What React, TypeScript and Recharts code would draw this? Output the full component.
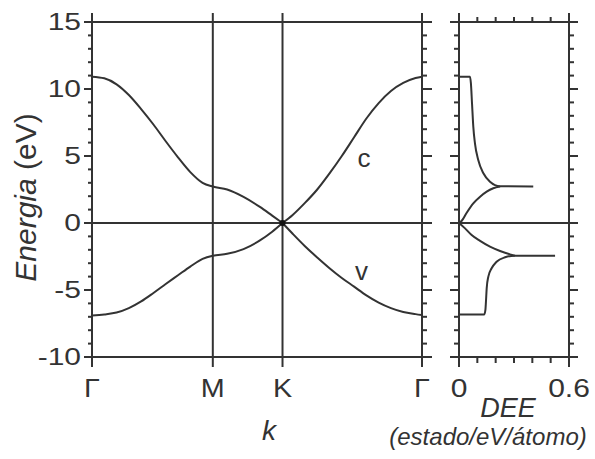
import React from "react";
import {
  ScatterChart,
  Scatter,
  XAxis,
  YAxis,
  ReferenceLine,
  ReferenceDot,
} from "recharts";

const INK = "#333";
const FONT = "'Liberation Sans', Arial, sans-serif";

// high-symmetry points of the hexagonal zone, path length in 1/Å
const symLabels = ["Γ", "M", "K", "Γ"];
const symK = [0, 1.475, 2.326, 4.029];

// π bands along Γ → M → K (eV)
const kGMK = [0, 0.15, 0.3, 0.45, 0.6, 0.75, 0.9, 1.05, 1.2, 1.35, 1.475, 1.65, 1.85, 2.05, 2.2, 2.326];
const condGMK = [10.92, 10.8, 10.35, 9.55, 8.5, 7.35, 6.1, 4.9, 3.8, 3.0, 2.72, 2.5, 1.95, 1.2, 0.55, 0];
const valGMK = [-6.9, -6.82, -6.68, -6.35, -5.85, -5.22, -4.55, -3.9, -3.25, -2.68, -2.44, -2.3, -1.95, -1.3, -0.65, 0];

// π bands along K → Γ (eV)
const kKG = [2.326, 2.45, 2.6, 2.75, 2.9, 3.05, 3.2, 3.35, 3.5, 3.65, 3.8, 3.95, 4.029];
const condKG = [0, 0.6, 1.5, 2.5, 3.7, 5.0, 6.4, 7.8, 8.95, 9.85, 10.45, 10.82, 10.92];
const valKG = [0, -0.8, -1.73, -2.57, -3.37, -4.1, -4.75, -5.4, -5.94, -6.35, -6.64, -6.8, -6.87];

// band names written next to the curves
const bandNames = ["c", "v"];
const bandNameK = [3.32, 3.29];
const bandNameE = [4.9, -3.57];

const energyTicks = [
  -10, -9, -8, -7, -6, -5, -4, -3, -2, -1, 0, 1, 2, 3, 4, 5, 6, 7, 8, 9, 10, 11, 12, 13, 14, 15,
];

// density of states, estado/eV/átomo
const dosTicks = [0, 0.1, 0.2, 0.3, 0.4, 0.5, 0.6];
const dosTickLabels = ["0", "", "", "", "", "", "0.6"];

// π* side: upper branch (band top down to the van Hove peak) and lower branch (from E = 0)
const dosCondUpperD = [0, 0.06, 0.065, 0.071, 0.078, 0.087, 0.105, 0.133, 0.169, 0.224, 0.405];
const dosCondUpperE = [10.92, 10.92, 10.42, 8.93, 7.19, 5.95, 4.7, 3.71, 3.08, 2.74, 2.72];
const dosCondLowerD = [0, 0.015, 0.042, 0.078, 0.115, 0.151, 0.187, 0.224];
const dosCondLowerE = [0, 0.17, 0.77, 1.47, 1.96, 2.34, 2.59, 2.72];

// π side
const dosValLowerD = [0, 0.138, 0.144, 0.147, 0.151, 0.16, 0.178, 0.205, 0.251, 0.305, 0.524];
const dosValLowerE = [-6.82, -6.82, -6.49, -5.87, -4.88, -4.0, -3.38, -2.89, -2.56, -2.44, -2.44];
const dosValUpperD = [0, 0.033, 0.069, 0.115, 0.169, 0.224, 0.278, 0.305];
const dosValUpperE = [0, -0.4, -0.9, -1.34, -1.77, -2.09, -2.34, -2.44];

const rows = (xs: number[], ys: number[], xKey: string) =>
  xs.map((x, i) => ({ [xKey]: x, e: ys[i] }));

const noPoint = () => <g />;
const lineStyle = { stroke: INK, strokeWidth: 2 };

type TickArgs = { x?: number; y?: number; payload?: { value: number } };

// energy ticks: long every 5 eV, short every 1 eV, pointing away from the frame
function energyTick(side: "left" | "right", major: number, minor: number, labelled: boolean) {
  return ({ x = 0, y = 0, payload }: TickArgs) => {
    const v = Number(payload?.value ?? 0);
    const isMajor = v % 5 === 0;
    const dir = side === "left" ? -1 : 1;
    return (
      <g>
        <line x1={x} x2={x + dir * (isMajor ? major : minor)} y1={y} y2={y} stroke={INK} strokeWidth={2} />
        {labelled && isMajor && (
          <text
            transform={`translate(${x - 11},${y}) scale(1.25,1)`}
            textAnchor="end"
            dy="0.35em"
            fontSize={24}
            fontFamily={FONT}
            fill={INK}
          >
            {v}
          </text>
        )}
      </g>
    );
  };
}

function kTick(side: "top" | "bottom") {
  return ({ x = 0, y = 0, payload }: TickArgs) => {
    const v = Number(payload?.value ?? 0);
    const name = symLabels[symK.indexOf(v)] ?? "";
    return (
      <g>
        <line x1={x} x2={x} y1={y} y2={side === "top" ? y - 9 : y + 10} stroke={INK} strokeWidth={2} />
        {side === "bottom" && (
          <text
            transform={`translate(${x},${y + 40}) scale(1.15,1)`}
            textAnchor="middle"
            fontSize={25}
            fontFamily={FONT}
            fill={INK}
          >
            {name}
          </text>
        )}
      </g>
    );
  };
}

function dosTick(side: "top" | "bottom") {
  return ({ x = 0, y = 0, payload }: TickArgs) => {
    const i = dosTicks.indexOf(Number(payload?.value ?? 0));
    const isMajor = i === 0 || i === dosTicks.length - 1;
    const len = side === "top" ? (isMajor ? 9 : 5) : isMajor ? 10 : 6;
    return (
      <g>
        <line x1={x} x2={x} y1={y} y2={side === "top" ? y - len : y + len} stroke={INK} strokeWidth={2} />
        {side === "bottom" && isMajor && (
          <text
            transform={`translate(${x},${y + 40}) scale(1.2,1)`}
            textAnchor="middle"
            fontSize={25}
            fontFamily={FONT}
            fill={INK}
          >
            {dosTickLabels[i]}
          </text>
        )}
      </g>
    );
  };
}

type Box = { viewBox?: { x: number; y: number; width: number; height: number } };

const EnergyTitle = ({ viewBox }: Box) => {
  const vb = viewBox ?? { x: 0, y: 22, width: 92, height: 335 };
  return (
    <text
      transform={`translate(${vb.x + 36},${vb.y + vb.height / 2 + 8}) rotate(-90)`}
      textAnchor="middle"
      fontSize={30}
      fontFamily={FONT}
      fill={INK}
    >
      <tspan fontStyle="italic">Energia</tspan>
      <tspan> (eV)</tspan>
    </text>
  );
};

const KTitle = ({ viewBox }: Box) => {
  const vb = viewBox ?? { x: 92, y: 357, width: 330, height: 102 };
  return (
    <text
      x={vb.x + vb.width / 2 + 12}
      y={vb.y + 83}
      textAnchor="middle"
      fontSize={28}
      fontStyle="italic"
      fontFamily={FONT}
      fill={INK}
    >
      k
    </text>
  );
};

const DosTitle = ({ viewBox }: Box) => {
  const vb = viewBox ?? { x: 459, y: 357, width: 110, height: 102 };
  const cx = vb.x + vb.width / 2;
  return (
    <g fontFamily={FONT} fill={INK} fontStyle="italic">
      <text x={cx - 6} y={vb.y + 59.5} textAnchor="middle" fontSize={27}>
        DEE
      </text>
      <text x={cx - 26} y={vb.y + 87.5} textAnchor="middle" fontSize={24}>
        (estado/eV/átomo)
      </text>
    </g>
  );
};

function BandChart() {
  return (
    <ScatterChart width={440} height={459} margin={{ top: 0, right: 0, bottom: 0, left: 0 }}>
      <XAxis
        xAxisId="b"
        type="number"
        dataKey="k"
        domain={[0, symK[3]]}
        ticks={symK}
        interval={0}
        height={102}
        tickSize={0}
        tickMargin={0}
        tickLine={false}
        axisLine={lineStyle}
        tick={kTick("bottom")}
        label={(p: Box) => <KTitle {...p} />}
      />
      <XAxis
        xAxisId="t"
        orientation="top"
        type="number"
        dataKey="k"
        domain={[0, symK[3]]}
        ticks={symK}
        interval={0}
        height={22}
        tickSize={0}
        tickMargin={0}
        tickLine={false}
        axisLine={lineStyle}
        tick={kTick("top")}
      />
      <YAxis
        yAxisId="l"
        type="number"
        dataKey="e"
        domain={[-10, 15]}
        ticks={energyTicks}
        interval={0}
        width={92}
        tickSize={0}
        tickMargin={0}
        tickLine={false}
        axisLine={lineStyle}
        tick={energyTick("left", 8, 4, true)}
        label={(p: Box) => <EnergyTitle {...p} />}
      />
      <YAxis
        yAxisId="r"
        orientation="right"
        type="number"
        dataKey="e"
        domain={[-10, 15]}
        ticks={energyTicks}
        interval={0}
        width={18}
        tickSize={0}
        tickMargin={0}
        tickLine={false}
        axisLine={lineStyle}
        tick={energyTick("right", 10, 5, false)}
      />
      <ReferenceLine xAxisId="b" yAxisId="l" y={0} stroke={INK} strokeWidth={2} />
      <ReferenceLine xAxisId="b" yAxisId="l" x={symK[1]} stroke={INK} strokeWidth={2} />
      <ReferenceLine xAxisId="b" yAxisId="l" x={symK[2]} stroke={INK} strokeWidth={2} />
      {[
        [kGMK, condGMK],
        [kGMK, valGMK],
        [kKG, condKG],
        [kKG, valKG],
      ].map(([ks, es], i) => (
        <Scatter
          key={i}
          xAxisId="b"
          yAxisId="l"
          data={rows(ks, es, "k")}
          fill={INK}
          line={lineStyle}
          lineJointType="monotoneX"
          shape={noPoint}
          isAnimationActive={false}
        />
      ))}
      {/* same band on the top/right axes so those get a domain and ticks */}
      <Scatter
        xAxisId="t"
        yAxisId="r"
        data={rows(kGMK, condGMK, "k")}
        shape={noPoint}
        isAnimationActive={false}
      />
      <ReferenceDot xAxisId="b" yAxisId="l" x={symK[2]} y={0} r={3} fill="#111" stroke="none" />
      {bandNames.map((name, i) => (
        <ReferenceDot
          key={name}
          xAxisId="b"
          yAxisId="l"
          x={bandNameK[i]}
          y={bandNameE[i]}
          r={0}
          fill="none"
          stroke="none"
          label={{ value: name, position: "center", fontSize: 26, fontFamily: FONT, fill: INK }}
        />
      ))}
    </ScatterChart>
  );
}

function DosChart() {
  return (
    <ScatterChart width={225} height={459} margin={{ top: 0, right: 0, bottom: 0, left: 70 }}>
      <XAxis
        xAxisId="b"
        type="number"
        dataKey="d"
        domain={[0, 0.6]}
        ticks={dosTicks}
        interval={0}
        height={102}
        tickSize={0}
        tickMargin={0}
        tickLine={false}
        axisLine={lineStyle}
        tick={dosTick("bottom")}
        label={(p: Box) => <DosTitle {...p} />}
      />
      <XAxis
        xAxisId="t"
        orientation="top"
        type="number"
        dataKey="d"
        domain={[0, 0.6]}
        ticks={dosTicks}
        interval={0}
        height={22}
        tickSize={0}
        tickMargin={0}
        tickLine={false}
        axisLine={lineStyle}
        tick={dosTick("top")}
      />
      <YAxis
        yAxisId="l"
        type="number"
        dataKey="e"
        domain={[-10, 15]}
        ticks={energyTicks}
        interval={0}
        width={19}
        tickSize={0}
        tickMargin={0}
        tickLine={false}
        axisLine={lineStyle}
        tick={energyTick("left", 9, 5, false)}
      />
      <YAxis
        yAxisId="r"
        orientation="right"
        type="number"
        dataKey="e"
        domain={[-10, 15]}
        ticks={energyTicks}
        interval={0}
        width={26}
        tickSize={0}
        tickMargin={0}
        tickLine={false}
        axisLine={lineStyle}
        tick={energyTick("right", 9, 5, false)}
      />
      <ReferenceLine xAxisId="b" yAxisId="l" y={0} stroke={INK} strokeWidth={2} />
      {[
        [dosCondUpperD, dosCondUpperE],
        [dosCondLowerD, dosCondLowerE],
        [dosValLowerD, dosValLowerE],
        [dosValUpperD, dosValUpperE],
      ].map(([ds, es], i) => (
        <Scatter
          key={i}
          xAxisId="b"
          yAxisId="l"
          data={rows(ds, es, "d")}
          fill={INK}
          line={lineStyle}
          lineJointType="monotoneX"
          shape={noPoint}
          isAnimationActive={false}
        />
      ))}
      {/* same curve on the top/right axes so those get a domain and ticks */}
      <Scatter
        xAxisId="t"
        yAxisId="r"
        data={rows(dosValLowerD, dosValLowerE, "d")}
        shape={noPoint}
        isAnimationActive={false}
      />
    </ScatterChart>
  );
}

export default function App() {
  return (
    <div
      style={{
        position: "absolute",
        left: 0,
        top: 0,
        width: 595,
        height: 459,
        background: "#fff",
      }}
    >
      <div style={{ position: "absolute", left: 0, top: 0 }}>
        <BandChart />
      </div>
      <div style={{ position: "absolute", left: 370, top: 0 }}>
        <DosChart />
      </div>
    </div>
  );
}
